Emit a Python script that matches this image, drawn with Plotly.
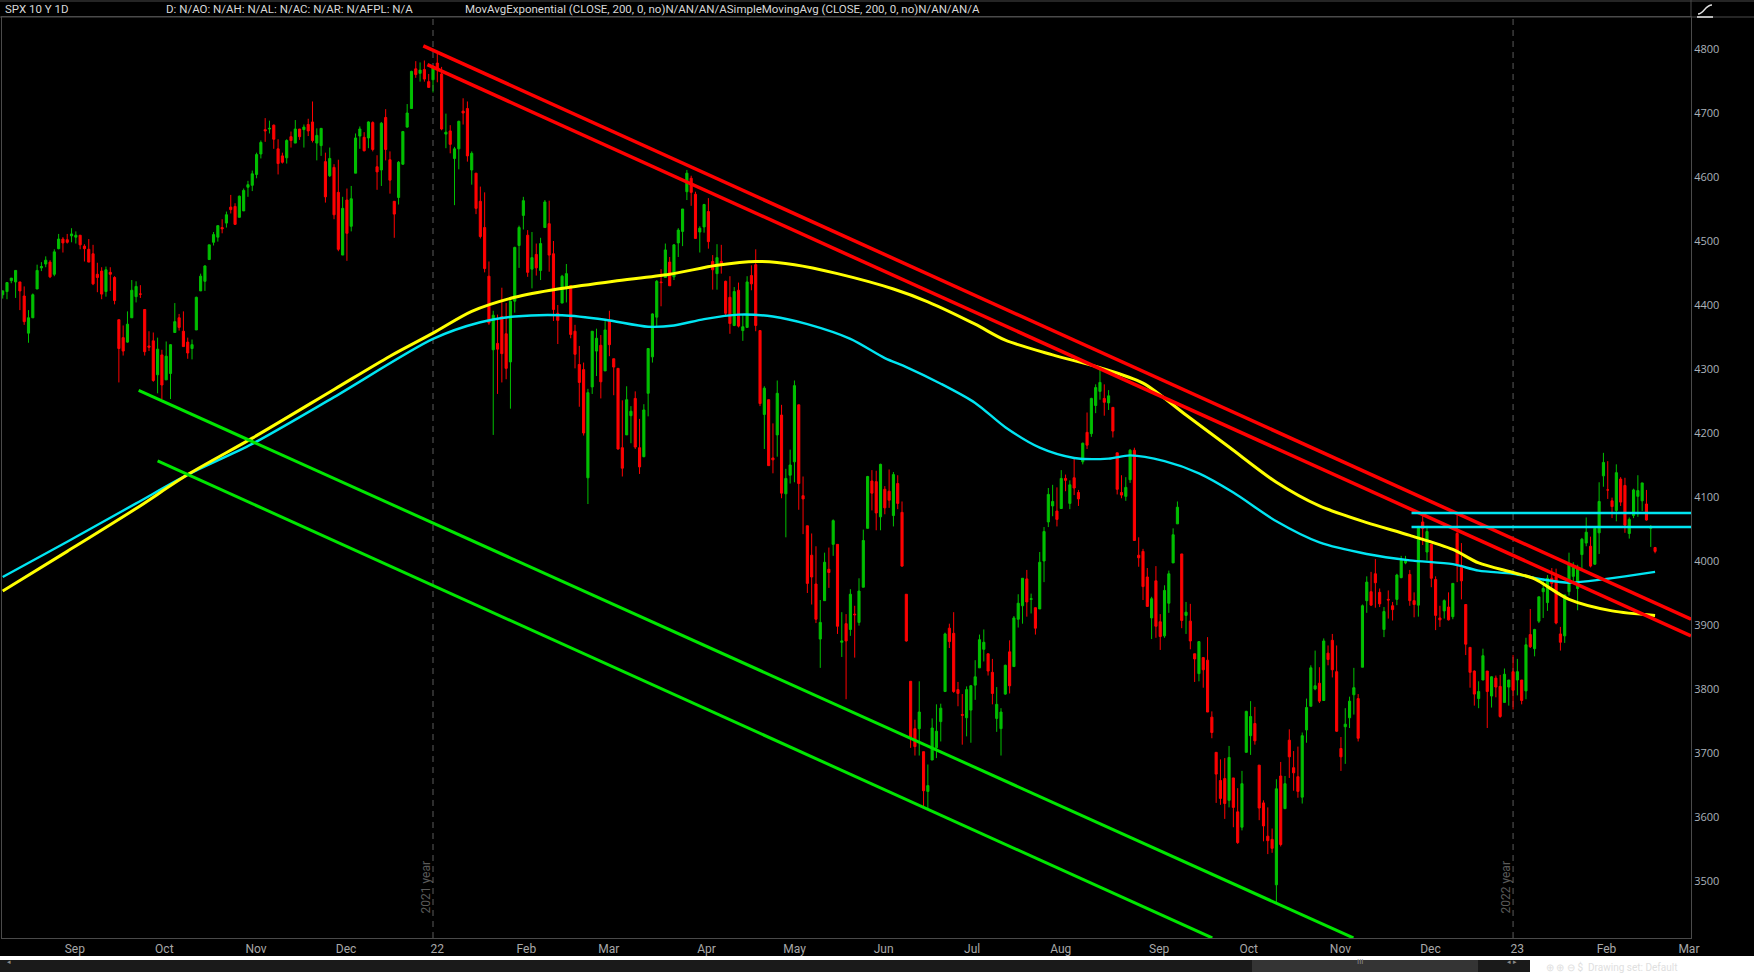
import pandas as pd
import plotly.graph_objects as go

# SPX daily candles (open, high, low, close), month by month
AUG21 = [(4416, 4423, 4410, 4422), (4421, 4435, 4409, 4435), (4438, 4442, 4434, 4442), (4436, 4454, 4411, 4454),
         (4436, 4436, 4392, 4422), (4414, 4429, 4369, 4374), (4356, 4392, 4341, 4380), (4380, 4418, 4380, 4416),
         (4425, 4463, 4425, 4454), (4458, 4467, 4453, 4460), (4464, 4476, 4459, 4470), (4467, 4470, 4442, 4444),
         (4448, 4487, 4445, 4483), (4488, 4511, 4487, 4503), (4503, 4506, 4482, 4497)]
SEP21 = [(4502, 4511, 4496, 4498), (4508, 4520, 4498, 4511), (4506, 4515, 4496, 4509), (4509, 4509, 4487, 4494),
         (4492, 4495, 4468, 4488), (4487, 4503, 4467, 4467), (4480, 4494, 4431, 4433), (4448, 4466, 4420, 4443),
         (4453, 4459, 4409, 4417), (4421, 4460, 4413, 4455), (4451, 4459, 4422, 4448), (4443, 4445, 4401, 4407),
         (4377, 4377, 4279, 4332), (4349, 4368, 4321, 4328), (4342, 4390, 4341, 4370), (4380, 4439, 4380, 4423),
         (4413, 4437, 4404, 4429), (4417, 4431, 4411, 4417), (4393, 4393, 4321, 4327), (4336, 4359, 4328, 4334),
         (4344, 4357, 4280, 4282)]
OCT21 = [(4291, 4349, 4262, 4331), (4322, 4330, 4253, 4275), (4283, 4343, 4283, 4320), (4293, 4339, 4253, 4338),
         (4357, 4403, 4357, 4374), (4380, 4386, 4360, 4365), (4359, 4390, 4335, 4335), (4342, 4349, 4316, 4325),
         (4332, 4346, 4315, 4338), (4361, 4413, 4361, 4412), (4422, 4449, 4422, 4445), (4437, 4462, 4422, 4461),
         (4471, 4494, 4471, 4494), (4498, 4514, 4493, 4510), (4506, 4524, 4499, 4524), (4521, 4534, 4512, 4519),
         (4528, 4546, 4521, 4541), (4553, 4572, 4543, 4549), (4554, 4559, 4525, 4526), (4537, 4571, 4537, 4570),
         (4547, 4582, 4547, 4579)]
NOV21 = [(4584, 4594, 4569, 4588), (4587, 4610, 4578, 4605), (4604, 4638, 4598, 4635), (4636, 4657, 4629, 4654),
         (4674, 4692, 4655, 4672), (4675, 4688, 4668, 4676), (4681, 4682, 4644, 4659), (4644, 4659, 4604, 4621),
         (4633, 4638, 4621, 4623), (4630, 4659, 4621, 4657), (4663, 4671, 4646, 4657), (4653, 4689, 4653, 4675),
         (4675, 4675, 4658, 4663), (4674, 4682, 4646, 4678), (4682, 4691, 4664, 4672), (4686, 4718, 4654, 4657),
         (4653, 4676, 4626, 4665), (4649, 4676, 4633, 4676), (4624, 4638, 4560, 4569), (4602, 4646, 4600, 4629),
         (4615, 4620, 4534, 4541)]
DEC21 = [(4576, 4627, 4484, 4487), (4478, 4569, 4478, 4551), (4564, 4582, 4469, 4512), (4523, 4586, 4515, 4566),
         (4606, 4668, 4606, 4661), (4664, 4679, 4644, 4675), (4662, 4670, 4640, 4641), (4661, 4687, 4645, 4686),
         (4685, 4687, 4640, 4643), (4616, 4634, 4580, 4608), (4611, 4686, 4586, 4684), (4693, 4706, 4626, 4643),
         (4627, 4640, 4574, 4595), (4562, 4562, 4505, 4542), (4568, 4625, 4557, 4623), (4620, 4672, 4619, 4671),
         (4678, 4714, 4677, 4700), (4707, 4766, 4707, 4765), (4769, 4781, 4755, 4760), (4762, 4779, 4749, 4767),
         (4768, 4782, 4749, 4753), (4749, 4761, 4740, 4740)]
JAN22 = [(4752, 4771, 4732, 4771), (4778, 4793, 4748, 4768), (4761, 4772, 4673, 4675), (4667, 4699, 4645, 4670),
         (4672, 4681, 4637, 4651), (4629, 4647, 4556, 4644), (4644, 4688, 4612, 4687), (4703, 4723, 4682, 4700),
         (4707, 4718, 4624, 4633), (4611, 4640, 4588, 4637), (4606, 4606, 4542, 4551), (4562, 4585, 4504, 4507),
         (4521, 4576, 4451, 4457), (4445, 4468, 4369, 4372), (4330, 4391, 4197, 4384), (4340, 4385, 4261, 4331),
         (4382, 4427, 4279, 4324), (4355, 4403, 4284, 4301), (4311, 4407, 4238, 4406), (4406, 4491, 4388, 4490)]
FEB22 = [(4493, 4524, 4458, 4521), (4540, 4569, 4518, 4563), (4509, 4517, 4444, 4451), (4456, 4514, 4426, 4474),
         (4479, 4496, 4446, 4458), (4454, 4505, 4439, 4496), (4521, 4564, 4521, 4561), (4527, 4563, 4452, 4478),
         (4480, 4500, 4375, 4393), (4387, 4400, 4339, 4376), (4403, 4447, 4403, 4445), (4429, 4464, 4404, 4449),
         (4430, 4430, 4348, 4354), (4359, 4369, 4301, 4323), (4307, 4336, 4241, 4279), (4299, 4310, 4196, 4200),
         (4130, 4269, 4089, 4263), (4272, 4359, 4261, 4359), (4328, 4363, 4289, 4348)]
MAR22 = [(4337, 4353, 4254, 4280), (4297, 4376, 4297, 4361), (4375, 4391, 4320, 4338), (4316, 4316, 4259, 4303),
         (4301, 4301, 4174, 4175), (4177, 4251, 4132, 4145), (4197, 4273, 4197, 4252), (4227, 4242, 4184, 4234),
         (4254, 4265, 4175, 4178), (4177, 4222, 4136, 4147), (4163, 4245, 4162, 4236), (4262, 4332, 4226, 4332),
         (4319, 4387, 4310, 4386), (4381, 4439, 4365, 4437), (4436, 4456, 4398, 4435), (4443, 4496, 4443, 4486),
         (4467, 4475, 4430, 4430), (4444, 4495, 4439, 4494), (4497, 4520, 4475, 4517), (4515, 4550, 4492, 4550),
         (4577, 4611, 4564, 4606), (4598, 4602, 4555, 4576), (4573, 4577, 4504, 4504)]
APR22 = [(4514, 4523, 4482, 4520), (4522, 4558, 4513, 4557), (4546, 4567, 4488, 4499), (4468, 4478, 4424, 4455),
         (4449, 4495, 4424, 4474), (4468, 4494, 4449, 4462), (4437, 4438, 4382, 4387), (4412, 4445, 4355, 4371),
         (4368, 4428, 4367, 4421), (4423, 4435, 4365, 4367), (4360, 4384, 4344, 4366), (4365, 4445, 4365, 4436),
         (4446, 4462, 4423, 4433), (4463, 4487, 4359, 4368), (4360, 4360, 4242, 4246), (4229, 4273, 4175, 4270),
         (4252, 4252, 4149, 4149), (4161, 4215, 4137, 4158), (4197, 4282, 4163, 4262), (4228, 4244, 4098, 4106)]
MAY22 = [(4105, 4144, 4037, 4129), (4134, 4174, 4121, 4150), (4155, 4282, 4123, 4274), (4244, 4244, 4080, 4121),
         (4102, 4132, 4042, 4097), (4055, 4055, 3950, 3965), (4009, 4043, 3932, 3975), (3964, 4023, 3903, 3909),
         (3878, 3939, 3833, 3904), (3938, 4013, 3938, 3998), (3987, 4021, 3958, 3982), (4026, 4065, 4008, 4063),
         (4026, 4026, 3886, 3898), (3873, 3920, 3850, 3875), (3902, 3917, 3784, 3875), (3893, 3956, 3883, 3948),
         (3917, 3930, 3849, 3916), (3904, 3973, 3899, 3953), (3959, 4049, 3959, 4032), (4051, 4133, 4051, 4132),
         (4125, 4142, 4079, 4106)]
JUN22 = [(4124, 4141, 4048, 4075), (4069, 4152, 4048, 4151), (4112, 4117, 4073, 4083), (4109, 4143, 4083, 4095),
         (4071, 4139, 4054, 4135), (4121, 4134, 4081, 4090), (4076, 4093, 3991, 3992), (3948, 3948, 3874, 3875),
         (3812, 3812, 3708, 3724), (3738, 3752, 3696, 3710), (3738, 3812, 3696, 3764), (3702, 3702, 3614, 3641),
         (3640, 3682, 3611, 3649), (3689, 3754, 3689, 3739), (3708, 3776, 3692, 3734), (3749, 3777, 3718, 3770),
         (3796, 3888, 3796, 3886), (3895, 3902, 3864, 3874), (3887, 3920, 3794, 3796), (3799, 3811, 3773, 3793),
         (3760, 3792, 3713, 3759)]
JUL22 = [(3755, 3804, 3726, 3799), (3767, 3806, 3716, 3805), (3806, 3845, 3783, 3819), (3833, 3885, 3833, 3877),
         (3862, 3893, 3843, 3873), (3855, 3855, 3821, 3828), (3826, 3847, 3776, 3793), (3754, 3803, 3733, 3776),
         (3738, 3770, 3696, 3764), (3792, 3838, 3791, 3837), (3858, 3876, 3793, 3805), (3835, 3914, 3835, 3911),
         (3909, 3948, 3896, 3934), (3930, 3973, 3902, 3973), (3972, 3986, 3913, 3936), (3940, 3949, 3918, 3941),
         (3927, 3927, 3885, 3895), (3925, 4014, 3925, 3998), (4000, 4053, 3967, 4046), (4061, 4114, 4053, 4104)]
AUG22 = [(4086, 4119, 4070, 4093), (4078, 4115, 4054, 4065), (4082, 4142, 4082, 4129), (4129, 4135, 4109, 4126),
         (4090, 4126, 4081, 4119), (4130, 4161, 4103, 4114), (4107, 4111, 4086, 4097), (4155, 4185, 4151, 4184),
         (4201, 4232, 4175, 4181), (4199, 4255, 4194, 4254), (4243, 4276, 4231, 4271), (4265, 4299, 4252, 4279),
         (4254, 4276, 4227, 4248), (4247, 4267, 4236, 4258), (4240, 4240, 4193, 4203), (4169, 4169, 4104, 4112),
         (4107, 4134, 4098, 4103), (4101, 4131, 4094, 4115), (4127, 4175, 4122, 4173), (4173, 4177, 4032, 4032),
         (4009, 4037, 3991, 4005), (4015, 4019, 3939, 3960), (3975, 3989, 3929, 3929)]
SEP22 = [(3911, 3944, 3878, 3941), (3969, 3992, 3880, 3898), (3905, 3917, 3861, 3882), (3883, 3962, 3880, 3954),
         (3934, 3985, 3919, 3980), (3997, 4051, 3997, 4041), (4058, 4093, 4058, 4084), (4011, 4011, 3895, 3907),
         (3915, 3936, 3886, 3920), (3906, 3933, 3862, 3875), (3855, 3855, 3811, 3847), (3824, 3874, 3812, 3874),
         (3849, 3850, 3802, 3830), (3845, 3881, 3764, 3764), (3756, 3765, 3723, 3732), (3701, 3701, 3622, 3667),
         (3657, 3690, 3619, 3629), (3660, 3692, 3597, 3621), (3626, 3711, 3615, 3693), (3661, 3661, 3584, 3615),
         (3608, 3645, 3558, 3560)]
OCT22 = [(3584, 3672, 3579, 3652), (3701, 3766, 3701, 3765), (3727, 3781, 3697, 3757), (3746, 3772, 3713, 3719),
         (3681, 3681, 3595, 3614), (3622, 3626, 3562, 3586), (3570, 3615, 3542, 3563), (3565, 3582, 3544, 3551),
         (3494, 3659, 3466, 3644), (3664, 3686, 3554, 3557), (3613, 3664, 3613, 3652), (3720, 3737, 3661, 3694),
         (3677, 3703, 3641, 3669), (3663, 3710, 3630, 3640), (3631, 3732, 3621, 3727), (3736, 3785, 3716, 3771),
         (3773, 3837, 3773, 3833), (3800, 3860, 3798, 3805), (3809, 3834, 3778, 3781), (3782, 3879, 3782, 3875),
         (3856, 3868, 3837, 3846)]
NOV22 = [(3876, 3886, 3818, 3830), (3827, 3868, 3733, 3734), (3707, 3725, 3672, 3694), (3741, 3770, 3683, 3745),
         (3755, 3788, 3739, 3781), (3791, 3833, 3760, 3802), (3785, 3792, 3718, 3723), (3834, 3932, 3834, 3930),
         (3938, 3976, 3919, 3967), (3952, 3983, 3930, 3931), (3980, 4003, 3927, 3966), (3951, 3957, 3928, 3933),
         (3893, 3928, 3881, 3921), (3940, 3954, 3910, 3939), (3930, 3936, 3907, 3924), (3940, 3980, 3931, 3978),
         (3974, 4008, 3973, 4001), (3997, 4008, 3995, 4000), (3979, 3986, 3930, 3938), (3938, 3951, 3912, 3932),
         (3931, 4054, 3913, 4054)]
DEC22 = [(4061, 4075, 4025, 4051), (4014, 4055, 4001, 4046), (4026, 4026, 3959, 3973), (3971, 3976, 3892, 3915),
         (3911, 3930, 3897, 3908), (3922, 3940, 3910, 3938), (3928, 3951, 3907, 3908), (3913, 3965, 3909, 3965),
         (4043, 4075, 3967, 3994), (3990, 4028, 3940, 3969), (3932, 3932, 3853, 3870), (3865, 3865, 3802, 3826),
         (3828, 3829, 3774, 3792), (3785, 3812, 3770, 3796), (3814, 3863, 3814, 3852), (3828, 3828, 3739, 3796),
         (3789, 3820, 3771, 3819), (3817, 3821, 3787, 3803), (3804, 3822, 3755, 3757), (3779, 3832, 3779, 3823),
         (3803, 3814, 3774, 3814)]
JAN23 = [(3827, 3853, 3768, 3798), (3814, 3847, 3790, 3827), (3814, 3814, 3776, 3782), (3797, 3880, 3784, 3869),
         (3885, 3925, 3864, 3866), (3863, 3894, 3851, 3893), (3906, 3944, 3903, 3944), (3952, 3972, 3911, 3957),
         (3935, 3978, 3922, 3973), (3973, 3989, 3959, 3965), (3976, 3988, 3901, 3903), (3886, 3897, 3860, 3873),
         (3883, 3947, 3872, 3947), (3952, 4013, 3946, 3994), (3976, 3998, 3964, 3991), (3957, 3994, 3923, 3990),
         (4010, 4036, 3987, 4034), (4028, 4068, 4023, 4045), (4023, 4038, 3990, 3992), (3995, 4051, 3994, 4051)]
FEB23 = [(4044, 4123, 4011, 4093), (4133, 4169, 4116, 4154), (4111, 4156, 4097, 4111), (4094, 4099, 4067, 4085),
         (4079, 4151, 4062, 4138), (4128, 4131, 4086, 4092), (4118, 4130, 4044, 4056), (4043, 4068, 4035, 4065),
         (4071, 4113, 4067, 4111), (4101, 4134, 4069, 4110), (4094, 4122, 4078, 4122), (4089, 4111, 4063, 4064),
         (4051, 4056, 4022, 4053), (4021, 4022, 4012, 4015)]

MONTHS = [AUG21, SEP21, OCT21, NOV21, DEC21, JAN22, FEB22, MAR22, APR22, MAY22, JUN22, JUL22,
          AUG22, SEP22, OCT22, NOV22, DEC22, JAN23, FEB23]

HOLIDAYS = ["2021-09-06", "2021-11-25", "2021-12-24", "2022-01-17", "2022-02-21", "2022-04-15",
            "2022-05-30", "2022-06-20", "2022-07-04", "2022-09-05", "2022-11-24", "2022-12-26",
            "2023-01-02", "2023-01-16", "2023-02-20"]

# 200-period moving averages, read at bar index
EMA_X = [0, 15, 31, 43, 58, 77, 90, 100, 109, 119, 129, 142, 155, 166, 175, 184, 194, 207, 215, 226, 233,
         244, 255, 265, 275, 285, 296, 306, 317, 327, 337, 343, 351, 356, 364, 374, 384]
EMA_Y = [3953, 4015, 4082, 4135, 4192, 4268, 4320, 4356, 4390, 4412, 4425, 4437, 4448, 4462, 4468, 4463,
         4449, 4425, 4405, 4370, 4345, 4322, 4302, 4278, 4228, 4178, 4123, 4086, 4060, 4040, 4018, 3997,
         3982, 3972, 3940, 3922, 3915]
SMA_X = [0, 15, 31, 43, 58, 77, 100, 111, 119, 130, 140, 150, 156, 163, 171, 179, 187, 197, 205, 210, 218,
         226, 233, 241, 249, 257, 262, 270, 278, 286, 296, 306, 317, 327, 337, 343, 351, 358, 364, 369, 377, 384]
SMA_Y = [3975, 4030, 4090, 4135, 4183, 4256, 4347, 4373, 4382, 4384, 4377, 4366, 4368, 4378, 4385, 4382,
         4370, 4347, 4317, 4303, 4277, 4247, 4209, 4177, 4161, 4160, 4165, 4156, 4137, 4107, 4062, 4029,
         4011, 4001, 3995, 3985, 3980, 3971, 3966, 3969, 3976, 3983]

# drawn trendlines (bar index, price)
RED_A_X, RED_A_Y = [97.75, 392.35], [4805, 3909]
RED_B_X, RED_B_Y = [98.7, 392.35], [4775.5, 3883]
GREEN_A_X, GREEN_A_Y = [31.6, 313.9], [4266.6, 3411]
GREEN_B_X, GREEN_B_Y = [36.0, 281.1], [4156.4, 3411]
LEVEL_X = [327.4, 392.35]
LEVELS = [4075, 4053]

PRICE_TICKS = list(range(3500, 4801, 100))
Y_RANGE = [3410.9, 4850]
X_RANGE = [-0.16, 392.35]

candles = [row for month in MONTHS for row in month]
opens, highs, lows, closes = (list(v) for v in zip(*candles))
bars = list(range(len(candles)))

cal = pd.bdate_range("2021-08-11", "2023-03-01", freq="C", holidays=HOLIDAYS)
if len(cal) < len(candles):
    print("calendar shorter than data", len(cal), len(candles))
month_starts = [i for i in range(1, len(cal)) if cal[i].month != cal[i - 1].month]
month_text = [cal[i].strftime("%y") if cal[i].month == 1 else cal[i].strftime("%b") for i in month_starts]
year_lines = [i for i in month_starts if cal[i].month == 1]

# pixel helpers for the chart chrome
L, R, T, B = 2, 1691, 17, 938


def fx(p):
    return (p - L) / (R - L)


def fy(p):
    return (B - p) / (B - T)


GREEN, RED = "#00C000", "#FF0000"
NARROW = "Liberation Sans Narrow, Roboto, sans-serif"

fig = go.Figure()
fig.add_trace(go.Candlestick(
    x=bars, open=opens, high=highs, low=lows, close=closes,
    increasing=dict(line=dict(color=GREEN, width=1), fillcolor=GREEN),
    decreasing=dict(line=dict(color=RED, width=1), fillcolor=RED),
    whiskerwidth=0, hoverinfo="skip",
))
fig.add_trace(go.Scatter(x=SMA_X, y=SMA_Y, mode="lines", line=dict(color="#00E5F2", width=2.4, shape="spline", smoothing=0.8)))
fig.add_trace(go.Scatter(x=EMA_X, y=EMA_Y, mode="lines", line=dict(color="#FFFF00", width=3, shape="spline", smoothing=0.8)))
for xs, ys in [(RED_A_X, RED_A_Y), (RED_B_X, RED_B_Y)]:
    fig.add_trace(go.Scatter(x=xs, y=ys, mode="lines", line=dict(color="#FF0000", width=3.5)))
for xs, ys in [(GREEN_A_X, GREEN_A_Y), (GREEN_B_X, GREEN_B_Y)]:
    fig.add_trace(go.Scatter(x=xs, y=ys, mode="lines", line=dict(color="#00E600", width=3)))
for lvl in LEVELS:
    fig.add_trace(go.Scatter(x=LEVEL_X, y=[lvl, lvl], mode="lines", line=dict(color="#00E5F2", width=2.4)))

shapes = []
for i in year_lines:
    shapes.append(dict(type="line", xref="x", yref="paper", x0=i, x1=i, y0=0, y1=1,
                       line=dict(color="#5a5a5a", width=1, dash="6px,5px"), layer="below"))
grey = "#4a4a4a"
shapes += [
    dict(type="line", xref="paper", yref="paper", x0=fx(0), x1=fx(1754), y0=fy(1), y1=fy(1), line=dict(color=grey, width=1)),
    dict(type="line", xref="paper", yref="paper", x0=fx(0), x1=fx(1754), y0=fy(17), y1=fy(17), line=dict(color=grey, width=1)),
    dict(type="line", xref="paper", yref="paper", x0=1, x1=1, y0=fy(0), y1=fy(17), line=dict(color=grey, width=1)),
    # settings glyph
    dict(type="path", xref="paper", yref="paper",
         path=f"M {fx(1698)},{fy(14)} C {fx(1704)},{fy(14)} {fx(1705)},{fy(5)} {fx(1712)},{fy(5)}",
         line=dict(color="#e0e0e0", width=1.4)),
    dict(type="line", xref="paper", yref="paper", x0=fx(1697), x1=fx(1713), y0=fy(17), y1=fy(17), line=dict(color="#e0e0e0", width=1.6)),
    # scroll area
    dict(type="rect", xref="paper", yref="paper", x0=fx(0), x1=fx(1754), y0=fy(956), y1=fy(977), fillcolor="#ffffff", line_width=0),
    dict(type="rect", xref="paper", yref="paper", x0=fx(0), x1=fx(1530), y0=fy(960), y1=fy(972), fillcolor="#1a1a1a", line_width=0),
    dict(type="rect", xref="paper", yref="paper", x0=fx(1252), x1=fx(1478), y0=fy(960), y1=fy(972), fillcolor="#343434", line_width=0),
]

ann = [
    dict(text="SPX 10 Y 1D", x=fx(3), y=fy(9)),
    dict(text="D: N/AO: N/AH: N/AL: N/AC: N/AR: N/AFPL: N/A", x=fx(164), y=fy(9)),
    dict(text="MovAvgExponential (CLOSE, 200, 0, no)N/AN/AN/ASimpleMovingAvg (CLOSE, 200, 0, no)N/AN/AN/A", x=fx(463), y=fy(9)),
]
annotations = [dict(a, xref="paper", yref="paper", xanchor="left", yanchor="middle", showarrow=False,
                    font=dict(family=NARROW, size=11.5, color="#d8d8d8")) for a in ann]
for i in year_lines:
    annotations.append(dict(text=f"{cal[i].year - 1} year", x=i, xref="x", y=0, yref="paper", xshift=-8,
                            yshift=22, xanchor="center", yanchor="bottom", textangle=-90, showarrow=False,
                            font=dict(family=NARROW, size=12, color="#5a5a5a")))
annotations += [
    dict(text="III", x=fx(1365), y=fy(966.5), xref="paper", yref="paper", showarrow=False,
         font=dict(family=NARROW, size=8, color="#8a8a8a"), borderpad=0),
    dict(text="◂", x=fx(6), y=fy(966.5), xref="paper", yref="paper", showarrow=False,
         font=dict(size=7, color="#8a8a8a"), borderpad=0),
    dict(text="◂ ▸", x=fx(1518), y=fy(966.5), xref="paper", yref="paper", showarrow=False,
         font=dict(size=7, color="#8a8a8a"), borderpad=0),
    dict(text="⊕ ⊕ ⊖ $  Drawing set: Default", x=fx(1545), y=fy(967), xref="paper", yref="paper",
         xanchor="left", yanchor="middle", showarrow=False, borderpad=0,
         font=dict(family=NARROW, size=10, color="#e0e0e0")),
]

fig.update_layout(
    width=1754, height=977,
    margin=dict(l=L, r=1754 - R, t=T, b=977 - B),
    paper_bgcolor="#000000", plot_bgcolor="#000000",
    showlegend=False, shapes=shapes, annotations=annotations,
    xaxis=dict(range=X_RANGE, tickvals=month_starts, ticktext=month_text, ticks="",
               ticklabelposition="outside right", ticklabelshift=-3, showgrid=False, zeroline=False,
               showline=True, linecolor=grey, mirror=True, rangeslider=dict(visible=False),
               tickfont=dict(family=NARROW, size=12, color="#a8a8a8")),
    yaxis=dict(range=Y_RANGE, side="right", tickvals=PRICE_TICKS, ticks="", showgrid=False,
               zeroline=False, showline=True, linecolor=grey, mirror=True,
               tickfont=dict(family="Open Sans, sans-serif", size=11, color="#aab2ba")),
)

fig.write_html("out.html", config={"displayModeBar": False},
               post_script="document.body.style.margin='0';document.body.style.overflow='hidden';")
